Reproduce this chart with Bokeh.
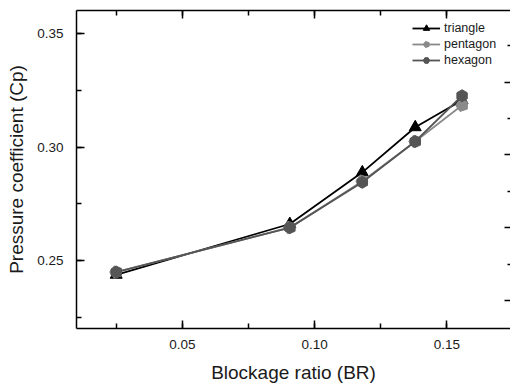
import math
from bokeh.plotting import figure
from bokeh.models import (Range1d, LinearAxis, SingleIntervalTicker, FixedTicker,
                          NumeralTickFormatter, Legend, LegendItem)
from bokeh.embed import file_html
from bokeh.resources import INLINE

# ---- data ----
br = [0.025, 0.0906, 0.118, 0.138, 0.1557]
cp_triangle = [0.2437, 0.2661, 0.2889, 0.3088, 0.3207]
cp_pentagon = [0.2449, 0.2645, 0.2850, 0.3025, 0.3185]
cp_hexagon = [0.2449, 0.2645, 0.2845, 0.3025, 0.3227]
series_names = ["triangle", "pentagon", "hexagon"]
x_title = "Blockage ratio (BR)"
y_title = "Pressure coefficient (Cp)"
right_major = [1, 2, 3, 4]
right_minor = [0.5, 1.5, 2.5, 3.5, 4.5]

FONT = "Liberation Sans"
TXT = "#1a1a1a"

p = figure(width=510, height=385, output_backend="svg", toolbar_location=None,
           x_range=Range1d(0.01, 0.174), y_range=Range1d(0.22, 0.3603),
           x_axis_location=None, y_axis_location=None,
           min_border_left=76, min_border_bottom=57, min_border_top=10,
           min_border_right=0)
p.outline_line_color = None
p.grid.visible = False
p.background_fill_color = "white"
p.border_fill_color = "white"

xt = SingleIntervalTicker(interval=0.05, num_minor_ticks=2)
yt = SingleIntervalTicker(interval=0.05, num_minor_ticks=2)

def style(ax):
    ax.axis_line_color = "black"
    ax.axis_line_width = 1.5
    ax.major_tick_in = 8
    ax.major_tick_out = 0
    ax.minor_tick_in = 5
    ax.minor_tick_out = 0
    ax.major_tick_line_width = 1.5
    ax.minor_tick_line_width = 1.5
    ax.major_tick_line_color = "black"
    ax.minor_tick_line_color = "black"
    ax.major_label_text_font = FONT
    ax.major_label_text_font_size = "13.5px"
    ax.major_label_text_color = TXT
    ax.axis_label_text_font = FONT
    ax.axis_label_text_font_size = "19px"
    ax.axis_label_text_font_style = "normal"
    ax.axis_label_text_color = TXT

bottom = LinearAxis(ticker=xt, formatter=NumeralTickFormatter(format="0.00"),
                    axis_label=x_title)
style(bottom)
bottom.major_label_standoff = 11
bottom.axis_label_standoff = 10
p.add_layout(bottom, "below")

left = LinearAxis(ticker=yt, formatter=NumeralTickFormatter(format="0.00"),
                  axis_label=y_title)
style(left)
left.major_label_standoff = 13
left.axis_label_standoff = 7
p.add_layout(left, "left")

# top axis: tick marks only (labels not drawn)
top = LinearAxis(ticker=xt)
style(top)
top.major_label_text_color = None
top.major_label_text_font_size = "1px"
top.major_label_standoff = 0
p.add_layout(top, "above")

def tick_only(ax, length):
    ax.axis_line_color = None
    ax.major_tick_in = 0
    ax.major_tick_out = 0
    ax.minor_tick_in = length
    ax.minor_tick_out = 0
    ax.minor_tick_line_width = 1.5
    ax.minor_tick_line_color = "black"
    ax.major_label_standoff = 0

# right-hand axis (ticks of a neighbouring scale, cropped at the edge)
p.extra_y_ranges = {"r": Range1d(0.615, 4.984)}
r1 = LinearAxis(y_range_name="r", ticker=FixedTicker(ticks=[], minor_ticks=right_major))
tick_only(r1, 6)
p.add_layout(r1, "right")
r2 = LinearAxis(y_range_name="r", ticker=FixedTicker(ticks=[], minor_ticks=right_minor))
tick_only(r2, 3)
p.add_layout(r2, "right")

# series
l1 = p.line(br, cp_triangle, line_color="black", line_width=1.8)
m1 = p.scatter(br, cp_triangle, marker="triangle", size=12, fill_color="black",
               line_color="black")
l2 = p.line(br, cp_pentagon, line_color="#8a8a8a", line_width=1.8)
m2 = p.ngon(x=br, y=cp_pentagon, radius=6.5, radius_units="screen", n=5,
            angle=math.pi / 2, fill_color="#8a8a8a", line_color="#8a8a8a")
l3 = p.line(br, cp_hexagon, line_color="#555555", line_width=1.8)
m3 = p.scatter(br, cp_hexagon, marker="hex", size=12, angle=math.pi / 6,
               fill_color="#555555", line_color="#555555")

legend = Legend(items=[LegendItem(label=series_names[0], renderers=[l1, m1]),
                       LegendItem(label=series_names[1], renderers=[l2, m2]),
                       LegendItem(label=series_names[2], renderers=[l3, m3])],
                location=(336, 260), border_line_color=None,
                background_fill_alpha=0, padding=0, margin=0, spacing=0,
                glyph_width=28, glyph_height=16, label_height=16,
                label_standoff=4, label_text_font=FONT,
                label_text_font_size="12.5px", label_text_color=TXT)
p.add_layout(legend)

open("out.html", "w").write(file_html(p, INLINE))
